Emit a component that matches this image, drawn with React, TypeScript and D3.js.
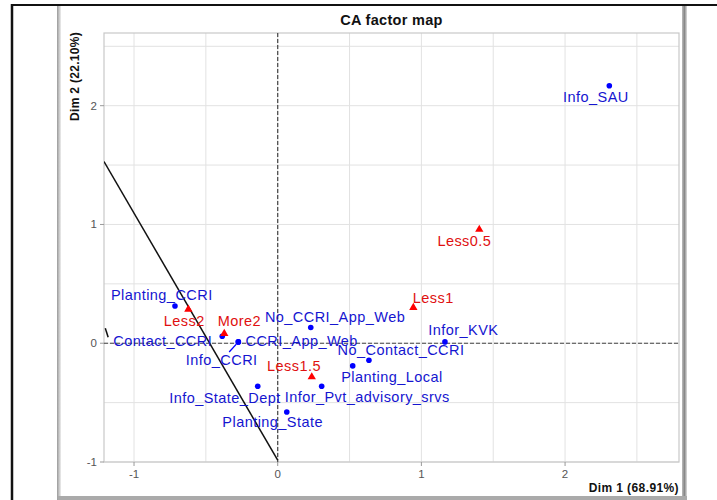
import React from "react";
import * as d3 from "d3";

// Row points (blue dots)
const rowNames = ["Info_SAU", "Planting_CCRI", "Contact_CCRI", "CCRI_App_Web", "Info_CCRI", "No_CCRI_App_Web", "No_Contact_CCRI", "Planting_Local", "Infor_KVK", "Info_State_Dept", "Infor_Pvt_advisory_srvs", "Planting_State"];
const rowX = [2.308, -0.715, -0.386, -0.274, -0.274, 0.23, 0.635, 0.522, 1.164, -0.139, 0.306, 0.063];
const rowY = [2.168, 0.314, 0.059, 0.011, 0.011, 0.132, -0.143, -0.191, 0.011, -0.362, -0.362, -0.579];
const rowLabelX = [2.215, -0.807, -0.8, 0.167, -0.39, 0.399, 0.858, 0.795, 1.292, -0.367, 0.623, -0.035];
const rowLabelY = [2.07, 0.404, 0.019, 0.019, -0.143, 0.222, -0.059, -0.284, 0.11, -0.457, -0.452, -0.663];
const rowSegment = [false, false, false, false, true, false, false, false, false, false, false, false];

// Column points (red triangles)
const colNames = ["Less2", "More2", "Less1.5", "Less1", "Less0.5"];
const colX = [-0.622, -0.372, 0.237, 0.944, 1.403];
const colY = [0.286, 0.082, -0.284, 0.301, 0.958];
const colLabelX = [-0.65, -0.267, 0.113, 1.083, 1.299];
const colLabelY = [0.188, 0.188, -0.191, 0.385, 0.859];

// Annotation lines (data coords)
const lineX1 = [-1.209, -1.2];
const lineY1 = [1.53, 0.126];
const lineX2 = [0, -1.18];
const lineY2 = [-0.985, 0.05];

const ticks = [-1, 0, 1, 2];
const gridVals = [-1, -0.5, 0, 0.5, 1, 1.5, 2, 2.5];

const title = "CA factor map";
const xTitle = "Dim 1 (68.91%)";
const yTitle = "Dim 2 (22.10%)";

export default function App() {
  const W = 717, H = 500;
  const L = 104, R = 679, T = 33, B = 462;
  const x = d3.scaleLinear().domain([-1.209, 2.793]).range([L, R]);
  const y = d3.scaleLinear().domain([-1.0, 2.612]).range([B, T]);
  const font = "'Liberation Sans', Arial, sans-serif";
  const tri = d3.symbol().type(d3.symbolTriangle).size(30)() as string;

  return (
    <svg width={W} height={H} style={{ position: "absolute", left: 0, top: 0, background: "#fff" }} fontFamily={font}>
      <defs>
        <clipPath id="plotclip">
          <rect x={L} y={T} width={R - L} height={B - T} />
        </clipPath>
        <linearGradient id="shadowR" x1="0" x2="1" y1="0" y2="0">
          <stop offset="0" stopColor="#bbb" />
          <stop offset="0.5" stopColor="#888" />
          <stop offset="1" stopColor="#ddd" />
        </linearGradient>
        <linearGradient id="shadowL" x1="0" x2="1" y1="0" y2="0">
          <stop offset="0" stopColor="#999" />
          <stop offset="1" stopColor="#eee" />
        </linearGradient>
      </defs>
      <rect x={0} y={0} width={W} height={H} fill="#fff" />
      <rect x={58} y={6} width={627} height={492} fill="#fff" />
      <rect x={57} y={6} width={4} height={494} fill="url(#shadowL)" />
      <rect x={682} y={6} width={5} height={494} fill="url(#shadowR)" />
      <rect x={58} y={496} width={629} height={4} fill="#aaa" />
      <line x1={12} x2={717} y1={5} y2={5} stroke="#111" strokeWidth={2} />
      <line x1={12} x2={12} y1={4} y2={500} stroke="#111" strokeWidth={2.5} />

      <text x={(L + R) / 2} y={25} textAnchor="middle" fontSize={14.5} fontWeight="bold" fill="#111" style={{ letterSpacing: "0.3px" }}>
        {title}
      </text>

      <g stroke="#e2e2e2" strokeWidth={1}>
        {gridVals.map((v) => (
          <line key={"gx" + v} x1={x(v)} x2={x(v)} y1={T} y2={B} />
        ))}
        {gridVals.map((v) => (
          <line key={"gy" + v} x1={L} x2={R} y1={y(v)} y2={y(v)} />
        ))}
      </g>
      <rect x={L} y={T} width={R - L} height={B - T} fill="none" stroke="#c8c8c8" strokeWidth={1.2} />

      <g stroke="#999" strokeWidth={1}>
        {ticks.map((v) => (
          <line key={"tx" + v} x1={x(v)} x2={x(v)} y1={B} y2={B + 4} />
        ))}
        {ticks.map((v) => (
          <line key={"ty" + v} x1={L - 4} x2={L} y1={y(v)} y2={y(v)} />
        ))}
      </g>
      <g fill="#555" fontSize={11.5}>
        {ticks.map((v) => (
          <text key={"lx" + v} x={x(v)} y={B + 16} textAnchor="middle">
            {String(v)}
          </text>
        ))}
        {ticks.map((v) => (
          <text key={"ly" + v} x={L - 7} y={y(v)} dy="0.35em" textAnchor="end">
            {String(v)}
          </text>
        ))}
      </g>

      <text x={R} y={492} textAnchor="end" fontSize={12} fontWeight="bold" fill="#111" style={{ letterSpacing: "0.4px" }}>
        {xTitle}
      </text>
      <text transform={`translate(79,${T - 1}) rotate(-90)`} textAnchor="end" fontSize={12} fontWeight="bold" fill="#111" style={{ letterSpacing: "0.3px" }}>
        {yTitle}
      </text>

      <g clipPath="url(#plotclip)">
        <line x1={L} x2={R} y1={y(0)} y2={y(0)} stroke="#444" strokeWidth={1.2} strokeDasharray="4,2" />
        <line x1={x(0)} x2={x(0)} y1={T} y2={B} stroke="#444" strokeWidth={1.2} strokeDasharray="4,2" />

        {lineX1.map((_, i) => (
          <line key={"al" + i} x1={x(lineX1[i])} y1={y(lineY1[i])} x2={x(lineX2[i])} y2={y(lineY2[i])} stroke="#111" strokeWidth={1.5} />
        ))}

        {rowNames.map((n, i) => {
          if (!rowSegment[i]) return null;
          const px = x(rowX[i]), py = y(rowY[i]);
          const lx = x(rowLabelX[i]), ly = y(rowLabelY[i]);
          return (
            <line key={"seg" + n} x1={px + (lx - px) * 0.12} y1={py + (ly - py) * 0.12} x2={px + (lx - px) * 0.55} y2={py + (ly - py) * 0.55} stroke="blue" strokeWidth={1.3} />
          );
        })}

        {rowNames.map((n, i) => (
          <circle key={"p" + n} cx={x(rowX[i])} cy={y(rowY[i])} r={2.8} fill="blue" />
        ))}
        {colNames.map((n, i) => (
          <path key={"t" + n} d={tri} transform={`translate(${x(colX[i])},${y(colY[i])})`} fill="red" />
        ))}

        <g fontSize={14.5} style={{ letterSpacing: "0.45px" }}>
          {rowNames.map((n, i) => (
            <text key={"rl" + n} x={x(rowLabelX[i])} y={y(rowLabelY[i])} dy="0.35em" textAnchor="middle" fill="#1515d0">
              {n}
            </text>
          ))}
          {colNames.map((n, i) => (
            <text key={"cl" + n} x={x(colLabelX[i])} y={y(colLabelY[i])} dy="0.35em" textAnchor="middle" fill="#e01010">
              {n}
            </text>
          ))}
        </g>
      </g>
    </svg>
  );
}
